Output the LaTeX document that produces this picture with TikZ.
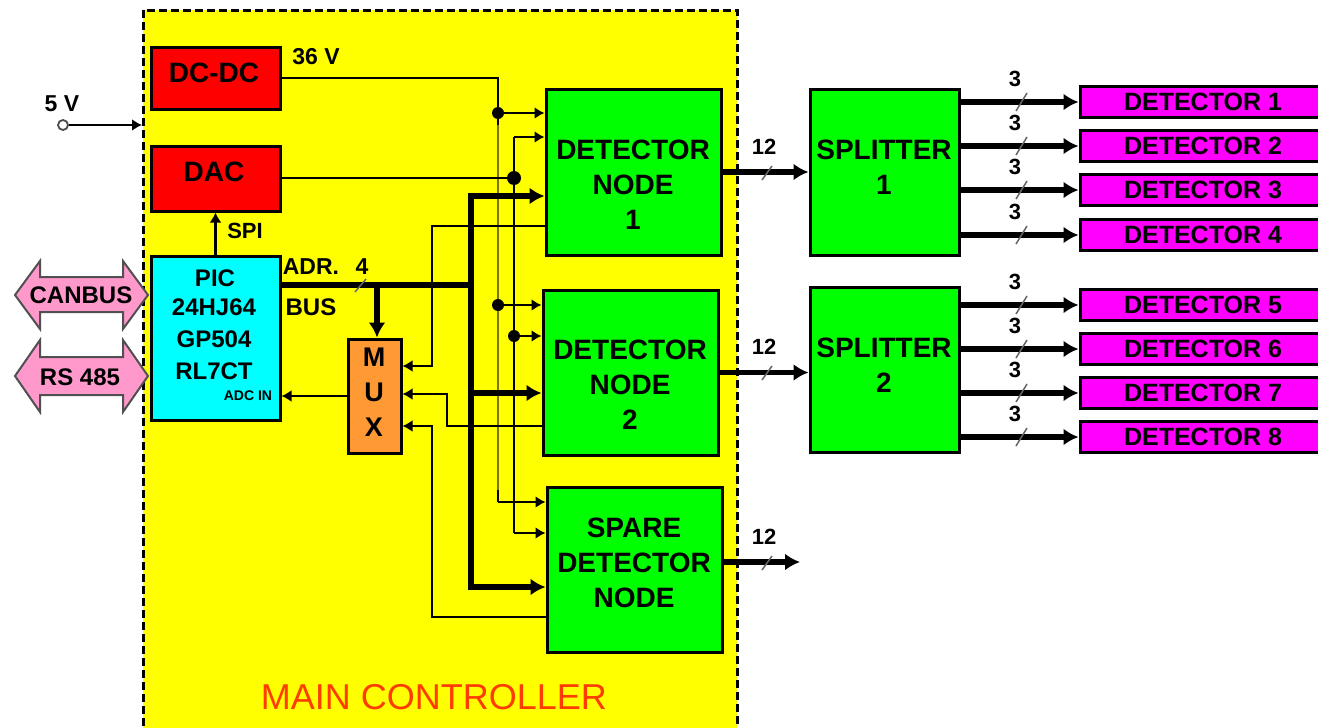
\documentclass[tikz,border=0pt]{standalone}
\usepackage{fontspec}
\setmainfont{Liberation Sans}
\usetikzlibrary{arrows.meta,calc}
\definecolor{ylw}{RGB}{255,255,0}
\definecolor{rd}{RGB}{255,0,0}
\definecolor{cyn}{RGB}{0,255,255}
\definecolor{grn}{RGB}{0,255,0}
\definecolor{mag}{RGB}{255,0,255}
\definecolor{org}{RGB}{255,153,51}
\definecolor{pnk}{RGB}{255,153,204}
\definecolor{mainred}{RGB}{255,60,0}
\definecolor{olv}{RGB}{120,120,0}
\definecolor{pinkedge}{RGB}{80,80,80}
\begin{document}
\begin{tikzpicture}[x=1pt,y=-1pt,
  box/.style={draw=black, line width=3pt, inner sep=0pt},
  txt/.style={inner sep=0pt, font=\fontsize{28}{30}\selectfont\bfseries},
  lbl/.style={inner sep=0pt, font=\fontsize{23}{25}\selectfont\bfseries},
  wire/.style={line width=2.7pt},
  warrow/.style={wire,-{Latex[length=10pt,width=12pt]}},
  bus/.style={line width=5.5pt},
  barrow/.style={bus,-{Latex[length=15pt,width=17pt]}},
  jdot/.style={circle, fill=black, inner sep=0pt, minimum size=12pt},
  slash/.style={line width=1.5pt, black!60},
  pinkarrow/.style={fill=pnk, draw=pinkedge, line width=2pt, line join=miter},
]
\useasboundingbox (0,0) rectangle (1318,728);
\fill[white] (0,0) rectangle (1318,728);
% main controller frame
\draw[fill=ylw, line width=3pt, dash pattern=on 8pt off 4pt] (143,10) rectangle (737,760);
\node[inner sep=0pt, font=\fontsize{36}{38}\selectfont, text=mainred] (mc) at (434,697) {MAIN CONTROLLER};

% boxes
\node[box, fill=rd, minimum width=129pt, minimum height=62pt] (dcdc) at (215.5,78) {};
\node[txt] at (214,73) {DC-DC};
\node[box, fill=rd, minimum width=129pt, minimum height=65pt] (dac) at (215.5,178.5) {};
\node[txt] at (214,172) {DAC};
\node[box, fill=cyn, minimum width=129pt, minimum height=164pt] (pic) at (215.5,338) {};
\node[lbl, font=\fontsize{24}{26}\selectfont\bfseries] at (215,278) {PIC};
\node[lbl, font=\fontsize{24}{26}\selectfont\bfseries] at (214,307) {24HJ64};
\node[lbl, font=\fontsize{24}{26}\selectfont\bfseries] at (214,339) {GP504};
\node[lbl, font=\fontsize{24}{26}\selectfont\bfseries] at (214,371) {RL7CT};
\node[lbl, font=\fontsize{14}{16}\selectfont\bfseries] at (248,396) {ADC IN};
\node[box, fill=org, minimum width=53pt, minimum height=114pt] (mux) at (374.5,396) {};
\node[txt, font=\fontsize{27}{29}\selectfont\bfseries] at (374,357) {M};
\node[txt, font=\fontsize{27}{29}\selectfont\bfseries] at (374,392) {U};
\node[txt, font=\fontsize{27}{29}\selectfont\bfseries] at (374,427) {X};

\node[box, fill=grn, minimum width=175pt, minimum height=166pt] (dn1) at (633.5,172) {};
\node[txt] at (633,150) {DETECTOR};
\node[txt] at (633,185) {NODE};
\node[txt] at (633,220) {1};
\node[box, fill=grn, minimum width=175pt, minimum height=165pt] (dn2) at (630.5,372.5) {};
\node[txt] at (630,350) {DETECTOR};
\node[txt] at (630,385) {NODE};
\node[txt] at (630,420) {2};
\node[box, fill=grn, minimum width=175pt, minimum height=165pt] (spare) at (634.5,569.5) {};
\node[txt] at (634,528) {SPARE};
\node[txt] at (634,563) {DETECTOR};
\node[txt] at (634,598) {NODE};

\node[box, fill=grn, minimum width=149pt, minimum height=166pt] (sp1) at (884.5,172) {};
\node[txt] at (884,150) {SPLITTER};
\node[txt] at (884,185) {1};
\node[box, fill=grn, minimum width=149pt, minimum height=165pt] (sp2) at (884.5,369.5) {};
\node[txt] at (884,348) {SPLITTER};
\node[txt] at (884,383) {2};

\foreach \i/\y in {1/102,2/146,3/190,4/235,5/305,6/349,7/393,8/437} {
  \node[box, fill=mag, minimum width=250pt, minimum height=31pt] (det\i) at (1205,\y) {};
  \node[txt, font=\fontsize{25}{27}\selectfont\bfseries] at (1203,\y) {DETECTOR \i};
}

% splitter outputs
\foreach \i/\y in {1/102,2/146,3/190,4/235} {
  \draw[barrow] (sp1.east |- det\i.west) -- (det\i.west);
}
\foreach \i/\y in {5/305,6/349,7/393,8/437} {
  \draw[barrow] (sp2.east |- det\i.west) -- (det\i.west);
}
\foreach \y in {102,146,190,235,305,349,393,437} {
  \draw[slash] (1016,\y+9) -- (1027,\y-9);
  \node[lbl, font=\fontsize{22}{24}\selectfont\bfseries] at (1015,\y-23) {3};
}

% detector node outputs
\coordinate (sout) at (800,562);
\draw[barrow] (dn1.east) -- (dn1.east -| sp1.west);
\draw[barrow] (dn2.east) -- (dn2.east -| sp2.west);
\draw[barrow] (spare.east |- sout) -- (sout);
\foreach \y in {172,372,562} {
  \draw[slash] (762,\y+8) -- (772,\y-6);
  \node[lbl, font=\fontsize{22}{24}\selectfont\bfseries] at (764,\y-25) {12};
}

% 5 V input
\node[circle, draw=black!70, line width=1.8pt, minimum size=10pt, inner sep=0pt, fill=white] (v5) at (63,125) {};
\coordinate (v5in) at (142,125);
\draw[warrow] (v5) -- (v5in);
\node[lbl] at (62,104) {5 V};

% 36 V distribution
\coordinate (pa) at (498,78);
\coordinate (pb) at (498,113);
\coordinate (pc) at (498,305);
\coordinate (pd) at (498,502);
\draw[wire] (dcdc.east |- pa) -- (pa) -- (pd);
\draw[line width=2.7pt, olv] (498,125) -- (498,490);
\draw[warrow] (pb) -- (pb -| dn1.west);
\draw[warrow] (pc) -- (pc -| dn2.west);
\draw[warrow] (pd) -- (pd -| spare.west);
\node[lbl] at (316,57) {36 V};

% DAC distribution
\coordinate (qa) at (514,137);
\coordinate (qb) at (514,178);
\coordinate (qc) at (514,336);
\coordinate (qd) at (514,533);
\draw[wire] (dac.east |- qb) -- (qb);
\draw[wire] (qa) -- (qd);
\draw[warrow] (qa) -- (qa -| dn1.west);
\draw[warrow] (qc) -- (qc -| dn2.west);
\draw[warrow] (qd) -- (qd -| spare.west);

% SPI
\draw[warrow] (pic.north) -- (dac.south);
\node[lbl, font=\fontsize{22}{24}\selectfont\bfseries] at (245,231) {SPI};

% address bus
\coordinate (ba) at (471,196);
\coordinate (bb) at (471,285);
\coordinate (bc) at (471,393);
\coordinate (bd) at (471,587);
\coordinate (bm) at (377,285);
\draw[bus] (pic.east |- bb) -- (bb);
\draw[barrow] (bb) |- (ba -| dn1.west);
\draw[barrow] (bb) |- (bd -| spare.west);
\draw[barrow] (bc) -- (bc -| dn2.west);
\draw[barrow] (bm) -- (bm |- mux.north);
\draw[slash] (355,292) -- (366,279);
\node[lbl] at (311,267) {ADR.};
\node[lbl] at (362,267) {4};
\node[lbl, font=\fontsize{24}{26}\selectfont\bfseries] at (311,307) {BUS};

% MUX connections
\draw[warrow] (mux.west) -- (mux.west -| pic.east);
\coordinate (m1) at (432,226);
\coordinate (m1b) at (432,366);
\draw[warrow] (m1 -| dn1.west) -- (m1) -- (m1b) -- (m1b -| mux.east);
\coordinate (m2) at (447,426);
\coordinate (m2b) at (447,394);
\draw[warrow] (m2 -| dn2.west) -- (m2) -- (m2b) -- (m2b -| mux.east);
\coordinate (m3) at (432,617);
\coordinate (m3b) at (432,426);
\draw[warrow] (m3 -| spare.west) -- (m3) -- (m3b) -- (m3b -| mux.east);

% junction dots
\node[jdot] at (pb) {};
\node[jdot] at (pc) {};
\node[jdot, minimum size=14pt] at (qb) {};
\node[jdot] at (qc) {};

% CANBUS and RS 485 double arrows
\draw[pinkarrow] (15,295) -- (40,261) -- (40,277) -- (123,277) -- (123,261) -- (148,295)
  -- (123,329) -- (123,312) -- (40,312) -- (40,329) -- cycle;
\node[lbl, font=\fontsize{24}{26}\selectfont\bfseries] (can) at (81,295) {CANBUS};
\draw[pinkarrow] (15,376) -- (40,340) -- (40,357) -- (123,357) -- (123,340) -- (148,376)
  -- (123,412) -- (123,395) -- (40,395) -- (40,412) -- cycle;
\node[lbl, font=\fontsize{24}{26}\selectfont\bfseries] (rs) at (80,377) {RS 485};
\end{tikzpicture}
\end{document}
